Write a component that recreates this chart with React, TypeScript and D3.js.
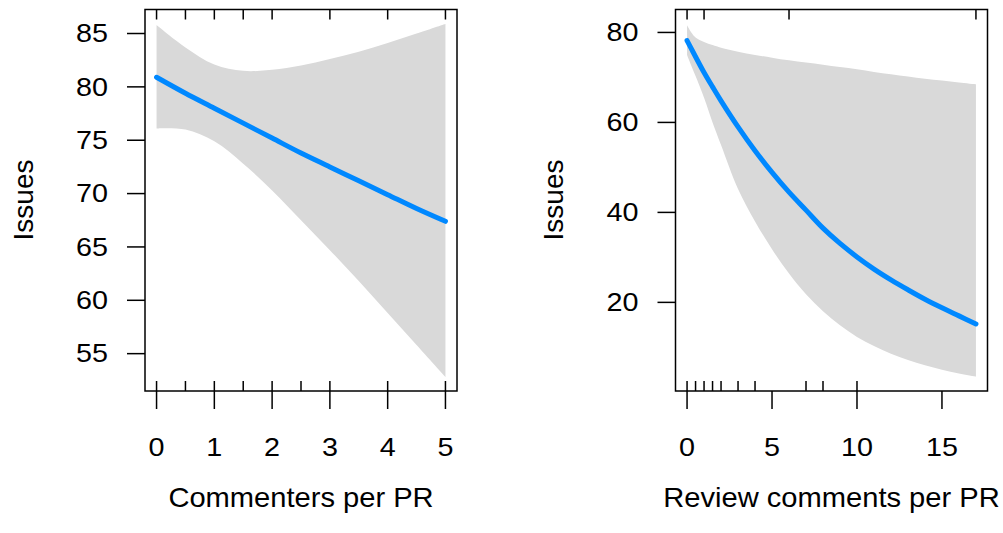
import React, { useEffect, useRef } from "react";
import * as d3 from "d3";

const width = 1003;
const height = 533;

// Commenters per PR panel
const commenters = [0, 0.5, 1, 1.5, 2, 2.5, 3, 3.5, 4, 4.5, 5];
const commentersFit = [80.9, 79.4, 78.0, 76.6, 75.2, 73.8, 72.5, 71.2, 69.9, 68.6, 67.4];
const commentersUpper = [85.8, 83.7, 82.1, 81.5, 81.6, 82.0, 82.6, 83.3, 84.1, 85.0, 85.9];
const commentersLower = [76.1, 76.0, 74.9, 72.8, 70.3, 67.5, 64.7, 61.8, 58.8, 55.8, 52.8];
const commentersRugTop = [0, 0.5, 1, 1.5, 2, 3, 4, 5];
const commentersRugBottom = [0, 0.5, 1, 1.5, 2, 2.5, 3, 4, 5];
const commentersTicksX = [0, 1, 2, 3, 4, 5];
const commentersTicksY = [55, 60, 65, 70, 75, 80, 85];

// Review comments per PR panel
const reviews = [0, 0.25, 0.5, 1, 1.5, 2, 3, 4, 5, 6, 7, 8, 9, 10, 11, 12, 13, 14, 15, 16, 17];
const reviewsFit = [78.2, 76.4, 74.6, 71.1, 67.9, 64.8, 59.0, 53.7, 48.9, 44.5, 40.5, 36.5, 33.1, 30.1, 27.4, 25.0, 22.8, 20.7, 18.8, 17.0, 15.2];
const reviewsUpper = [81.6, 80.0, 78.9, 77.9, 77.2, 76.6, 75.7, 75.0, 74.4, 73.8, 73.3, 72.8, 72.3, 71.8, 71.2, 70.7, 70.2, 69.7, 69.3, 68.9, 68.5];
const reviewsLower = [75.0, 72.6, 70.3, 65.5, 60.0, 55.0, 45.2, 38.0, 31.8, 26.4, 21.8, 18.0, 14.9, 12.3, 10.3, 8.6, 7.2, 6.0, 5.0, 4.2, 3.5];
const reviewsRugTop = [0, 1, 6, 17];
const reviewsRugBottom = [0, 0.5, 1, 1.5, 2, 3, 4, 7, 8, 10];
const reviewsTicksX = [0, 5, 10, 15];
const reviewsTicksY = [20, 40, 60, 80];

const lineColor = "#0088ff";
const bandColor = "#d9d9d9";
const font = "'Liberation Sans', Arial, Helvetica, sans-serif";

type Panel = {
  left: number;
  xDomain: [number, number];
  yDomain: [number, number];
  xs: number[];
  fit: number[];
  lower: number[];
  upper: number[];
  rugTop: number[];
  rugBottom: number[];
  ticksX: number[];
  ticksY: number[];
  xTitle: string;
  yTitle: string;
};

const panels: Panel[] = [
  {
    left: 145,
    xDomain: [-0.2, 5.2],
    yDomain: [51.5, 87.25],
    xs: commenters,
    fit: commentersFit,
    lower: commentersLower,
    upper: commentersUpper,
    rugTop: commentersRugTop,
    rugBottom: commentersRugBottom,
    ticksX: commentersTicksX,
    ticksY: commentersTicksY,
    xTitle: "Commenters per PR",
    yTitle: "Issues",
  },
  {
    left: 675.5,
    xDomain: [-0.68, 17.68],
    yDomain: [0.3, 85.1],
    xs: reviews,
    fit: reviewsFit,
    lower: reviewsLower,
    upper: reviewsUpper,
    rugTop: reviewsRugTop,
    rugBottom: reviewsRugBottom,
    ticksX: reviewsTicksX,
    ticksY: reviewsTicksY,
    xTitle: "Review comments per PR",
    yTitle: "Issues",
  },
];

const boxTop = 9.5;
const boxBottom = 391;
const boxWidth = 312;

export default function App() {
  const ref = useRef<SVGSVGElement>(null);

  useEffect(() => {
    const svg = d3.select(ref.current);
    svg.selectAll("*").remove();

    panels.forEach((p) => {
      const x = d3.scaleLinear().domain(p.xDomain).range([p.left, p.left + boxWidth]);
      const y = d3.scaleLinear().domain(p.yDomain).range([boxBottom, boxTop]);
      const g = svg.append("g");
      const curve = d3.curveCatmullRom.alpha(0.5);

      // confidence band
      const area = d3
        .area<number>()
        .x((d, i) => x(p.xs[i]))
        .y0((d, i) => y(p.lower[i]))
        .y1((d, i) => y(p.upper[i]))
        .curve(curve);
      g.append("path").datum(p.xs).attr("d", area).attr("fill", bandColor);

      // fitted line
      const line = d3
        .line<number>()
        .x((d, i) => x(p.xs[i]))
        .y((d, i) => y(p.fit[i]))
        .curve(curve);
      g.append("path")
        .datum(p.xs)
        .attr("d", line)
        .attr("fill", "none")
        .attr("stroke", lineColor)
        .attr("stroke-width", 5)
        .attr("stroke-linecap", "round");

      // rugs
      g.selectAll(".rugTop")
        .data(p.rugTop)
        .join("line")
        .attr("x1", (d) => x(d))
        .attr("x2", (d) => x(d))
        .attr("y1", boxTop)
        .attr("y2", boxTop + 10)
        .attr("stroke", "black")
        .attr("stroke-width", 1.5);
      g.selectAll(".rugBottom")
        .data(p.rugBottom)
        .join("line")
        .attr("x1", (d) => x(d))
        .attr("x2", (d) => x(d))
        .attr("y1", boxBottom)
        .attr("y2", boxBottom - 10)
        .attr("stroke", "black")
        .attr("stroke-width", 1.5);

      // box
      g.append("rect")
        .attr("x", p.left)
        .attr("y", boxTop)
        .attr("width", boxWidth)
        .attr("height", boxBottom - boxTop)
        .attr("fill", "none")
        .attr("stroke", "black")
        .attr("stroke-width", 1.5);

      // x axis ticks + labels
      p.ticksX.forEach((t) => {
        g.append("line")
          .attr("x1", x(t))
          .attr("x2", x(t))
          .attr("y1", boxBottom)
          .attr("y2", boxBottom + 18)
          .attr("stroke", "black")
          .attr("stroke-width", 1.5);
        g.append("text")
          .attr("transform", `translate(${x(t)},${447}) scale(1.15,1)`)
          .attr("text-anchor", "middle")
          .attr("dy", "0.35em")
          .attr("font-size", 25)
          .attr("font-family", font)
          .text(t);
      });

      // y axis ticks + labels
      p.ticksY.forEach((t) => {
        g.append("line")
          .attr("x1", p.left)
          .attr("x2", p.left - 18)
          .attr("y1", y(t))
          .attr("y2", y(t))
          .attr("stroke", "black")
          .attr("stroke-width", 1.5);
        g.append("text")
          .attr("transform", `translate(${p.left - 37},${y(t)}) scale(1.15,1)`)
          .attr("text-anchor", "end")
          .attr("dy", "0.35em")
          .attr("font-size", 25)
          .attr("font-family", font)
          .text(t);
      });

      // titles
      g.append("text")
        .attr("transform", `translate(${p.left + boxWidth / 2},${497}) scale(1.04,1)`)
        .attr("text-anchor", "middle")
        .attr("dy", "0.35em")
        .attr("font-size", 28)
        .attr("font-family", font)
        .text(p.xTitle);
      g.append("text")
        .attr("transform", `translate(${p.left - 122},${200}) rotate(-90)`)
        .attr("text-anchor", "middle")
        .attr("dy", "0.35em")
        .attr("font-size", 28)
        .attr("font-family", font)
        .text(p.yTitle);
    });
  }, []);

  return (
    <svg
      ref={ref}
      width={width}
      height={height}
      style={{ position: "absolute", left: 0, top: 0, background: "white" }}
    ></svg>
  );
}
